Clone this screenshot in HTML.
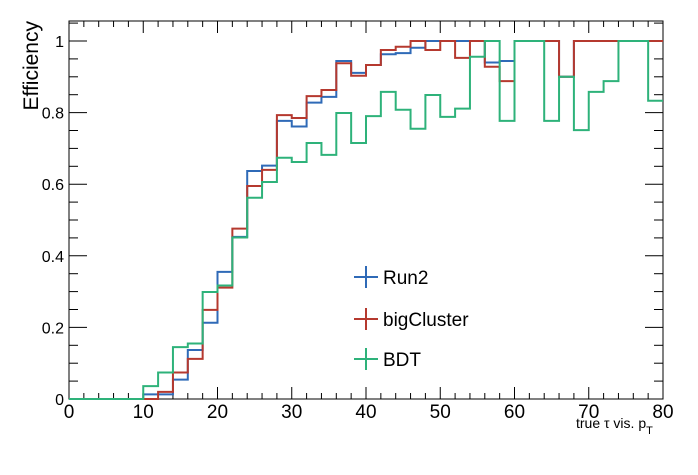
<!DOCTYPE html>
<html><head><meta charset="utf-8"><style>
html,body{margin:0;padding:0;background:#fff;}
svg{display:block;font-family:"Liberation Sans",Arial,sans-serif;}
</style></head><body>
<svg id="chart" width="698" height="475" viewBox="0 0 698 475">
<rect x="0" y="0" width="698" height="475" fill="#fff"/>
<g id="axes"></g>
<g id="series"></g>
<g id="legend"></g>
</svg>
<script>
const binEdgesMin = 0, binWidth = 2;
const run2 = [0,0,0,0,0,0.013,0.013,0.054,0.137,0.213,0.355,0.453,0.637,0.652,0.777,0.761,0.828,0.844,0.944,0.911,0.933,0.963,0.966,0.981,1,1,1,1,0.94,0.944,1,1,1,0.9,1,1,1,1,1,1];
const bigCluster = [0,0,0,0,0,0,0.02,0.074,0.112,0.249,0.311,0.476,0.595,0.64,0.793,0.785,0.846,0.863,0.938,0.903,0.933,0.975,0.984,1,0.975,1,0.953,1,0.928,0.888,1,1,1,0.9,1,1,1,1,1,1];
const bdt = [0,0,0,0,0,0.036,0.074,0.145,0.155,0.299,0.317,0.451,0.562,0.606,0.674,0.662,0.715,0.682,0.799,0.715,0.79,0.858,0.808,0.755,0.849,0.788,0.811,0.956,1,0.777,1,1,0.777,0.9,0.751,0.858,0.888,1,1,0.833];
const xTicks = [0,10,20,30,40,50,60,70,80];
const yTicks = [0,0.2,0.4,0.6,0.8,1];
const yTickLabels = ["0","0.2","0.4","0.6","0.8","1"];
const seriesNames = ["Run2","bigCluster","BDT"];
const seriesColors = ["#2f6ab7","#b5392f","#2eb27a"];

const X0=69,X1=663,Y0=399,YT=21,Y1V=41;
const xs=v=>X0+(v-0)*(X1-X0)/80;
const ys=v=>Y0-v*(Y0-Y1V);
const NS="http://www.w3.org/2000/svg";
function mk(tag,attrs,parent){const e=document.createElementNS(NS,tag);for(const k in attrs)e.setAttribute(k,attrs[k]);parent.appendChild(e);return e;}
const axes=document.getElementById('axes');
const frame=mk('rect',{x:X0,y:YT,width:X1-X0,height:Y0-YT,fill:'none',stroke:'#000','stroke-width':1},axes);


// x ticks
for(let v=0;v<=80;v+=2){
  const major=v%10===0, L=major?12:6, x=xs(v);
  const t1=mk('line',{x1:x,y1:Y0,x2:x,y2:Y0-L,stroke:'#000'},axes);
  
  
  const t2=mk('line',{x1:x,y1:YT,x2:x,y2:YT+L,stroke:'#000'},axes);
  
  
}
xTicks.forEach(v=>{
  const t=mk('text',{x:xs(v),y:418,'font-size':19,'text-anchor':'middle',fill:'#000'},axes);
  t.textContent=String(v);
  
  
});
for(let i=0;i<=21;i++){
  const v=i*0.05; if(ys(v)<YT) break;
  const major=i%4===0, L=major?18:9, y=ys(v);
  const t1=mk('line',{x1:X0,y1:y,x2:X0+L,y2:y,stroke:'#000'},axes);
  
  
  const t2=mk('line',{x1:X1,y1:y,x2:X1-L,y2:y,stroke:'#000'},axes);
  
  
}
yTicks.forEach((v,i)=>{
  const t=mk('text',{x:X0-5,y:ys(v)+6,'font-size':16,'text-anchor':'end',fill:'#000'},axes);
  t.textContent=yTickLabels[i];
  
  
});
const yt=mk('text',{x:0,y:0,'font-size':21,'text-anchor':'end',transform:'translate(38,21) rotate(-90)',fill:'#000'},axes);
yt.textContent='Efficiency';


const xt=mk('text',{x:576,y:428,'font-size':14,fill:'#000'},axes);
xt.innerHTML='true τ vis. p<tspan dy="6" font-size="11">T</tspan>';



const series=document.getElementById('series');
[run2,bigCluster,bdt].forEach((vals,si)=>{
  let d='M'+xs(binEdgesMin)+','+ys(0);
  vals.forEach((v,i)=>{
    const a=binEdgesMin+i*binWidth,b=a+binWidth;
    d+=' L'+xs(a)+','+ys(v)+' L'+xs(b)+','+ys(v);
  });
  const p=mk('path',{d:d,fill:'none',stroke:seriesColors[si],'stroke-width':2,'stroke-linejoin':'miter'},series);
  
  
});

const legend=document.getElementById('legend');
const ly=[277,319,359];
seriesNames.forEach((n,i)=>{
  const g=mk('g',{},legend);
  
  
  mk('line',{x1:354,y1:ly[i],x2:378,y2:ly[i],stroke:seriesColors[i],'stroke-width':2},g);
  mk('line',{x1:366,y1:ly[i]-11,x2:366,y2:ly[i]+11,stroke:seriesColors[i],'stroke-width':2},g);
  const t=mk('text',{x:383,y:ly[i]+7,'font-size':19,fill:'#000'},g);
  t.textContent=n;
});
</script>
</body></html>
